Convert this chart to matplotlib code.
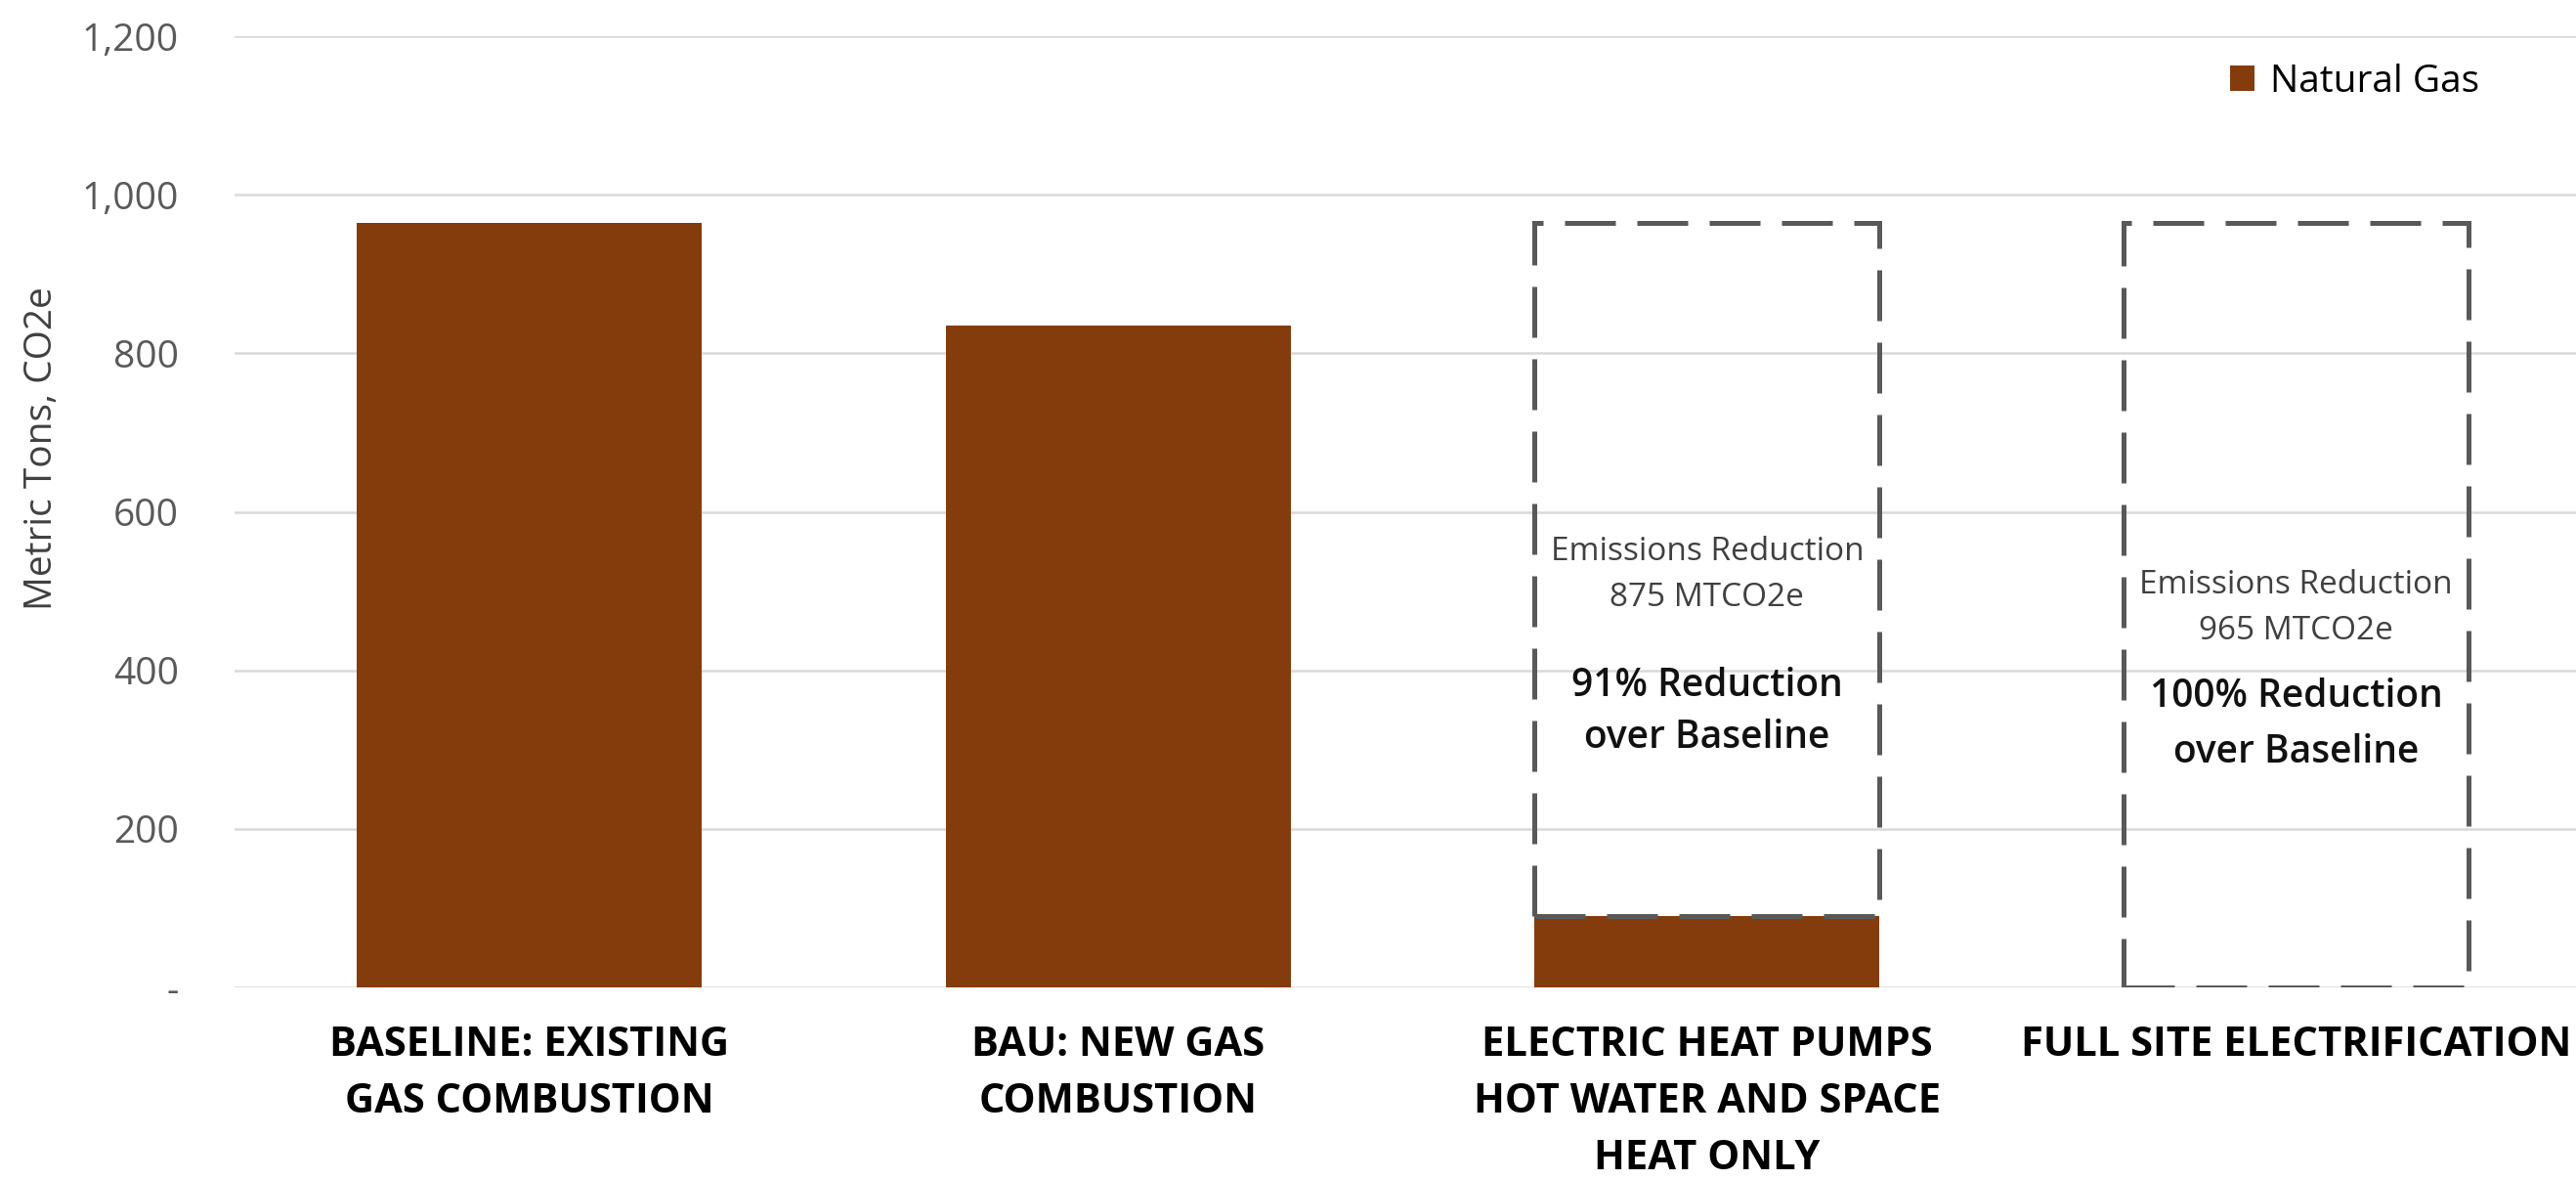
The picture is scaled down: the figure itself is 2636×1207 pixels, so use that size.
"""Natural gas emissions by scenario, with reduction boxes"""

import matplotlib

matplotlib.use("Agg")
import numpy as np
from matplotlib import pyplot as plt

# data
scenarios = [
    "BASELINE: EXISTING\nGAS COMBUSTION",
    "BAU: NEW GAS\nCOMBUSTION",
    "ELECTRIC HEAT PUMPS\nHOT WATER AND SPACE\nHEAT ONLY",
    "FULL SITE ELECTRIFICATION",
]
natural_gas = [965, 835, 90, 0]
reduction = [0, 0, 875, 965]
reduction_pct = [0, 0, 91, 100]
y_ticks = [0, 200, 400, 600, 800, 1000, 1200]
y_tick_labels = ["-", "200", "400", "600", "800", "1,000", "1,200"]

BAR_COLOR = "#843C0C"
EDGE_GRAY = "#595959"
GRID_GRAY = "#D9D9D9"

plt.rcParams["font.family"] = ["Open Sans", "DejaVu Sans"]


def plot_chart(out_fn):
    fig = plt.figure(figsize=(26.36, 12.07), dpi=100)
    ax = fig.add_axes([0.09105, 0.16321, 0.91464, 0.80613])
    x = np.arange(len(scenarios))
    width = 0.586

    ax.bar(x, natural_gas, width, color=BAR_COLOR, label="Natural Gas", zorder=2)

    # dashed outline showing the avoided emissions
    for xi, base, red in zip(x, natural_gas, reduction):
        if red <= 0:
            continue
        ax.bar(
            xi,
            red,
            width,
            bottom=base,
            fill=False,
            edgecolor=EDGE_GRAY,
            linewidth=3.6,
            linestyle=(0, (10.4, 4.4)),
            zorder=3,
        )

    # annotation text inside the boxes (y in data units)
    text_rows = {2: (550, 492, 380, 314), 3: (508, 450, 366, 296)}
    for i, (y1, y2, y3, y4) in text_rows.items():
        ax.text(x[i], y1, "Emissions Reduction", ha="center", va="center",
                fontsize=24, color="#404040", zorder=4)
        ax.text(x[i], y2, f"{reduction[i]} MTCO2e", ha="center", va="center",
                fontsize=24, color="#404040", zorder=4)
        ax.text(x[i], y3, f"{reduction_pct[i]}% Reduction", ha="center", va="center",
                fontsize=28, fontweight="semibold", color="#111111", zorder=4)
        ax.text(x[i], y4, "over Baseline", ha="center", va="center",
                fontsize=28, fontweight="semibold", color="#111111", zorder=4)

    ax.set_xlim(-0.5, 3.5)
    ax.set_ylim(0, 1200)
    ax.set_yticks(y_ticks)
    ax.set_yticklabels(y_tick_labels)
    ax.set_xticks(x)
    ax.set_xticklabels(scenarios, fontsize=30, fontweight="bold", linespacing=1.55)
    ax.tick_params(axis="y", length=0, pad=41, labelsize=28, labelcolor=EDGE_GRAY)
    ax.tick_params(axis="x", length=0, pad=28, labelcolor="black")

    ax.grid(axis="y", color=GRID_GRAY, linewidth=1.8, zorder=0)
    ax.set_axisbelow(True)
    for spine in ax.spines.values():
        spine.set_visible(False)

    ax.set_ylabel("Metric Tons, CO2e", fontsize=28, color="#404040")
    ax.yaxis.set_label_coords(-0.0738, 0.567)

    ax.legend(
        loc="center left",
        bbox_to_anchor=(2282 / 2636, 1 - 84 / 1207),
        bbox_transform=fig.transFigure,
        frameon=False,
        fontsize=28,
        handlelength=0.65,
        handleheight=0.65,
        handletextpad=0.4,
        borderpad=0,
        borderaxespad=0,
    )

    fig.savefig(out_fn, dpi=100)


if __name__ == "__main__":
    plot_chart("out.png")
